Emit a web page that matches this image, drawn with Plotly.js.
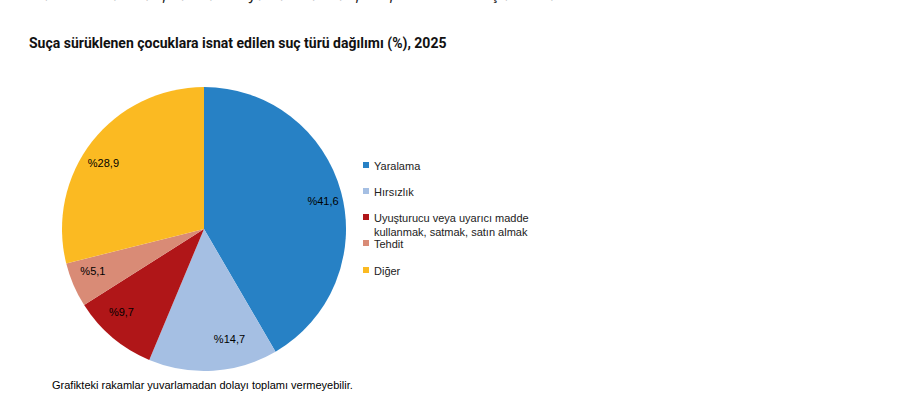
<!DOCTYPE html>
<html>
<head>
<meta charset="utf-8">
<script src="https://cdn.plot.ly/plotly-3.0.1.min.js"></script>
<style>
html,body{margin:0;padding:0;background:#fff;}
#chart{width:917px;height:420px;}
</style>
</head>
<body>
<div id="chart"></div>
<script>
// ---- data ----
const categories = ["Yaralama", "Hırsızlık", "Uyuşturucu veya uyarıcı madde<br>kullanmak, satmak, satın almak", "Tehdit", "Diğer"];
const values = [41.6, 14.7, 9.7, 5.1, 28.9];
const valueLabels = ["%41,6", "%14,7", "%9,7", "%5,1", "%28,9"];
const colors = ["#2781C5", "#A5BFE3", "#B01618", "#D98B76", "#FBBA22"];
const titleText = "Suça sürüklenen çocuklara isnat edilen suç türü dağılımı (%), 2025";
const topText = "madde kullanmak, satmak veya satın almak, %5,1 ile tehdit suçları isnat edildi.";
const noteText = "Grafikteki rakamlar yuvarlamadan dolayı toplamı vermeyebilir.";

// ---- layout helpers (pixel -> paper) ----
const W = 917, H = 420;
const px = x => x / W;
const py = y => 1 - y / H;

const cx = 204, cy = 229, r = 142;   // visible pie
const rl = 104;                       // radius of label ring (invisible pie)

const pieTrace = {
  type: "pie",
  labels: categories,
  values: values,
  textinfo: "none",
  marker: {colors: colors, line: {width: 0}},
  sort: false,
  direction: "clockwise",
  rotation: 0,
  hoverinfo: "label+percent",
  showlegend: false,
  domain: {x: [px(cx - r), px(cx + r)], y: [py(cy + r), py(cy - r)]}
};

// invisible smaller pie, used only to place the value labels further out in the slices
const labelTrace = {
  type: "pie",
  labels: categories,
  values: values,
  text: valueLabels,
  textinfo: "text",
  textposition: "outside",
  textfont: {family: "Liberation Sans, Arial, sans-serif", size: 11, color: "#000"},
  marker: {colors: colors.map(() => "rgba(0,0,0,0)"), line: {width: 0}},
  sort: false,
  direction: "clockwise",
  rotation: 0,
  hoverinfo: "skip",
  showlegend: false,
  automargin: false,
  domain: {x: [px(cx - rl), px(cx + rl)], y: [py(cy + rl), py(cy - rl)]}
};

// custom legend rows (pixel y of first text line centre)
const legendRows = [165, 191, 217, 243, 270];
const legendX = 363;

const annotations = [
  {text: topText, x: px(27), y: py(6), xref: "paper", yref: "paper", xanchor: "left", yanchor: "bottom",
   showarrow: false, font: {family: "Inter, Roboto, sans-serif", size: 16, color: "#222"}},
  {text: "<b>" + titleText + "</b>", x: px(27), y: py(44), xref: "paper", yref: "paper", xanchor: "left", yanchor: "middle",
   showarrow: false, font: {family: "Roboto, Inter, sans-serif", size: 14, color: "#111"}},
  {text: noteText, x: px(50), y: py(385), xref: "paper", yref: "paper", xanchor: "left", yanchor: "middle",
   showarrow: false, font: {family: "Liberation Sans, Arial, sans-serif", size: 11, color: "#000"}}
];
const shapes = [];
categories.forEach((c, i) => {
  const yc = legendRows[i];
  annotations.push({
    text: c, x: px(legendX + 9), y: py(yc - 7), xref: "paper", yref: "paper",
    xanchor: "left", yanchor: "top", align: "left", showarrow: false,
    font: {family: "Liberation Sans, Arial, sans-serif", size: 11, color: "#222"}
  });
  shapes.push({
    type: "rect", xref: "paper", yref: "paper",
    x0: px(legendX), x1: px(legendX + 6), y0: py(yc + 3), y1: py(yc - 3),
    fillcolor: colors[i], line: {width: 0}
  });
});

const layout = {
  width: W, height: H,
  margin: {l: 0, r: 0, t: 0, b: 0},
  paper_bgcolor: "#fff",
  plot_bgcolor: "#fff",
  showlegend: false,
  annotations: annotations,
  shapes: shapes
};

Plotly.newPlot("chart", [pieTrace, labelTrace], layout, {displayModeBar: false, staticPlot: true});
</script>
</body>
</html>
